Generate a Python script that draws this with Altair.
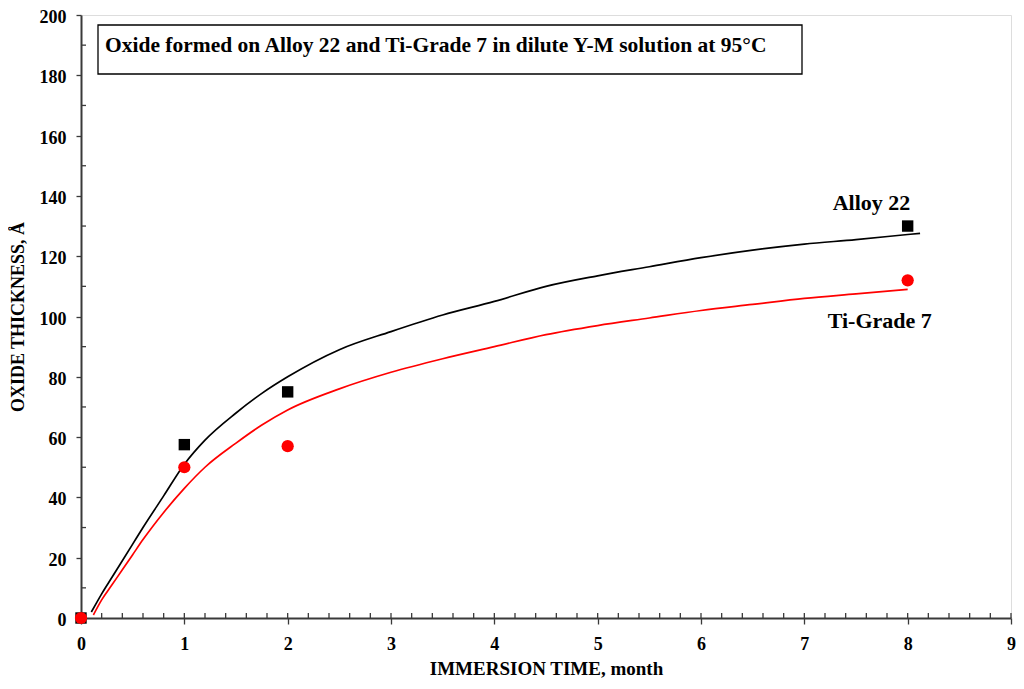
import altair as alt
import pandas as pd

# Fitted curves
alloy_x = [0.1, 0.15, 0.2, 0.3, 0.4, 0.5, 0.6, 0.8, 1.0, 1.2, 1.5, 1.75, 2.0, 2.5, 3.0, 3.5, 4.0, 4.5, 5.0, 5.5, 6.0, 6.5, 7.0, 7.5, 8.0, 8.12]
alloy_y = [2, 5, 8, 13.5, 19, 24.5, 30, 40.5, 51, 59, 68, 74.5, 80, 89, 95, 100.5, 105, 110, 113.5, 116.5, 119.5, 122, 124, 125.5, 127.2, 127.6]
ti_x = [0.12, 0.2, 0.3, 0.4, 0.5, 0.6, 0.8, 1.0, 1.2, 1.5, 1.75, 2.0, 2.5, 3.0, 3.5, 4.0, 4.5, 5.0, 5.5, 6.0, 6.5, 7.0, 7.5, 8.0]
ti_y = [1, 6, 11, 16, 21, 26, 35, 43, 50, 58, 64, 69, 76, 81.5, 86, 90, 94, 97, 99.5, 102, 104, 106, 107.5, 109]

# Measured points
alloy_pt_x = [0, 1, 2, 8]
alloy_pt_y = [0, 57.5, 75, 130]
ti_pt_x = [0, 1, 2, 8]
ti_pt_y = [0, 50, 57, 112]

# Axis ticks
x_major = [0, 1, 2, 3, 4, 5, 6, 7, 8, 9]
x_minor = [round(i * 0.2, 1) for i in range(46)]
y_major = [0, 20, 40, 60, 80, 100, 120, 140, 160, 180, 200]
y_minor = [10 * i for i in range(1, 20, 2)]

labels = ["Alloy 22", "Ti-Grade 7"]
label_x = [7.65, 7.73]
label_y = [137.5, 98.5]
title_text = "Oxide formed on Alloy 22 and Ti-Grade 7 in dilute Y-M solution at 95°C"

W, H = 930, 603
FONT = "Liberation Serif"
AX = "#3a3a3a"

xs = alt.Scale(domain=[0, 9], nice=False)
ys = alt.Scale(domain=[0, 200], nice=False)

curves = pd.DataFrame({
    "x": alloy_x + ti_x,
    "y": alloy_y + ti_y,
    "s": ["Alloy 22"] * len(alloy_x) + ["Ti-Grade 7"] * len(ti_x),
})
alloy_pts = pd.DataFrame({"x": alloy_pt_x, "y": alloy_pt_y})
ti_pts = pd.DataFrame({"x": ti_pt_x, "y": ti_pt_y})
lab = pd.DataFrame({"t": labels, "x": label_x, "y": label_y})

base_x = alt.X("x:Q", scale=xs, axis=alt.Axis(
    values=x_major, title="IMMERSION TIME, month", format="d", labelFlush=False,
    domainColor=AX, domainWidth=2, tickColor=AX, tickSize=6, tickWidth=1.3,
    labelFont=FONT, labelFontSize=18, labelFontWeight="bold", labelColor="black",
    labelPadding=11, titleFont=FONT, titleFontSize=19, titleFontWeight="bold",
    titleColor="black", titlePadding=6, grid=False))
base_y = alt.Y("y:Q", scale=ys, axis=alt.Axis(
    values=y_major, title="OXIDE THICKNESS, Å", labelFlush=False, labelOffset=2.5,
    domainColor=AX, domainWidth=2, tickColor=AX, tickSize=5, tickWidth=1.3,
    labelFont=FONT, labelFontSize=18, labelFontWeight="bold", labelColor="black",
    labelPadding=10, titleFont=FONT, titleFontSize=18, titleFontWeight="bold",
    titleColor="black", titlePadding=12, grid=False))

lines = alt.Chart(curves).mark_line(strokeWidth=1.7, interpolate="monotone").encode(
    x=base_x, y=base_y, detail="s:N",
    color=alt.Color("s:N", scale=alt.Scale(domain=labels, range=["black", "red"]), legend=None),
)

sq = alt.Chart(alloy_pts).mark_point(shape="square", filled=True, size=130, color="black", opacity=1).encode(
    x=alt.X("x:Q", scale=xs), y=alt.Y("y:Q", scale=ys))
circ = alt.Chart(ti_pts).mark_point(shape="circle", filled=True, size=150, color="red", opacity=1).encode(
    x=alt.X("x:Q", scale=xs), y=alt.Y("y:Q", scale=ys))

xminor = alt.Chart(pd.DataFrame({"x": x_minor})).mark_rule(color=AX, strokeWidth=1.3).encode(
    x=alt.X("x:Q", scale=xs), y=alt.value(H), y2=alt.value(H - 5))
yminor = alt.Chart(pd.DataFrame({"y": y_minor})).mark_rule(color=AX, strokeWidth=1.3).encode(
    y=alt.Y("y:Q", scale=ys), x=alt.value(0), x2=alt.value(5))

text_labels = alt.Chart(lab).mark_text(font=FONT, fontSize=22, fontWeight="bold", color="black").encode(
    x=alt.X("x:Q", scale=xs), y=alt.Y("y:Q", scale=ys), text="t:N")

box = alt.Chart(pd.DataFrame({"t": [title_text]})).mark_rect(fill="white", stroke="black", strokeWidth=1.3).encode(
    x=alt.value(17), x2=alt.value(721), y=alt.value(10), y2=alt.value(59))
box_text = alt.Chart(pd.DataFrame({"t": [title_text]})).mark_text(
    font=FONT, fontSize=21.5, fontWeight="bold", color="black", align="left", baseline="alphabetic").encode(
    x=alt.value(24), y=alt.value(37), text="t:N")

chart = alt.layer(lines, xminor, yminor, box, box_text, sq, circ, text_labels).properties(
    width=W, height=H,
    autosize=alt.AutoSizeParams(type="none"),
    padding={"left": 73, "top": 7, "right": 5, "bottom": 63},
).configure_view(stroke="#999", strokeWidth=1.5).configure(background="white", font=FONT)

chart.save("out.html", embed_options={"renderer": "svg", "actions": False})
